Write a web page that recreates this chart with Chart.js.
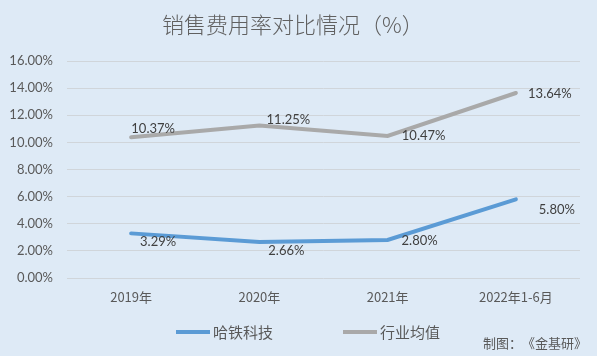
<!DOCTYPE html>
<html><head><meta charset="utf-8">
<script src="https://cdn.jsdelivr.net/npm/chart.js@4/dist/chart.umd.min.js"></script>
<style>html,body{margin:0;padding:0;background:#DEEAF6;}#wrap{width:597px;height:356px;}</style>
</head><body><div id="wrap"><canvas id="c" width="597" height="356"></canvas></div>
<script>
const categories = ['2019年', '2020年', '2021年', '2022年1-6月'];
const haTie = [3.29, 2.66, 2.80, 5.80];
const industryAvg = [10.37, 11.25, 10.47, 13.64];
const yTicks = [0, 2, 4, 6, 8, 10, 12, 14, 16];
const seriesNames = ['哈铁科技', '行业均值'];
const titleText = '销售费用率对比情况（%）';
const creditText = '制图：《金基研》';

// label offsets (style only)
const labelOffsets = [
  [[27, 8], [27, 9], [32, 1], [41, 10]],
  [[22, -9], [29, -6], [36, 0], [34, 1]]
];

const CJK = '"Noto Sans CJK SC", "Noto Sans", sans-serif';
const NUM = 'Lato, "Noto Sans", sans-serif';

const decor = {
  id: 'decor',
  beforeDraw(chart) {
    const ctx = chart.ctx;
    ctx.save();
    ctx.fillStyle = '#DEEAF6';
    ctx.fillRect(0, 0, chart.width, chart.height);
    ctx.restore();
  },
  afterDraw(chart) {
    const ctx = chart.ctx;
    ctx.save();
    // title
    ctx.fillStyle = '#606060';
    ctx.font = '300 22px ' + CJK;
    ctx.textAlign = 'left';
    ctx.textBaseline = 'middle';
    ctx.fillText(titleText, 162, 25);
    ctx.textAlign = 'center';
    // data labels
    ctx.font = '13px ' + NUM;
    ctx.fillStyle = '#404040';
    chart.data.datasets.forEach((ds, di) => {
      const meta = chart.getDatasetMeta(di);
      meta.data.forEach((pt, i) => {
        const off = labelOffsets[di][i];
        ctx.fillText(ds.data[i].toFixed(2) + '%', pt.x + off[0], pt.y + off[1]);
      });
    });
    // legend
    const legendY = 332;
    const items = [{x: 176}, {x: 343}];
    ctx.font = '15px ' + CJK;
    ctx.textAlign = 'left';
    chart.data.datasets.forEach((ds, di) => {
      const x = items[di].x;
      ctx.strokeStyle = ds.borderColor;
      ctx.lineWidth = 4;
      ctx.beginPath();
      ctx.moveTo(x, legendY);
      ctx.lineTo(x + 34, legendY);
      ctx.stroke();
      ctx.fillStyle = '#595959';
      ctx.fillText(ds.label, x + 37, legendY);
    });
    // credit (drawn glyph by glyph to keep full-width punctuation)
    ctx.font = '13px ' + CJK;
    ctx.textAlign = 'left';
    ctx.fillStyle = '#595959';
    const chars = Array.from(creditText);
    const pitch = 13;
    let cx = 587 - pitch * chars.length;
    chars.forEach(ch => { ctx.fillText(ch, cx, 343); cx += pitch; });
    ctx.restore();
  }
};

new Chart(document.getElementById('c'), {
  type: 'line',
  data: {
    labels: categories,
    datasets: [
      { label: seriesNames[0], data: haTie, borderColor: '#5B9BD5', backgroundColor: '#5B9BD5', borderWidth: 4, pointRadius: 0, tension: 0, borderCapStyle: 'round' },
      { label: seriesNames[1], data: industryAvg, borderColor: '#A9A9A9', backgroundColor: '#A9A9A9', borderWidth: 4, pointRadius: 0, tension: 0, borderCapStyle: 'round' }
    ]
  },
  options: {
    responsive: false,
    animation: false,
    events: [],
    layout: { padding: { top: 61, right: 17, bottom: 48, left: 0 } },
    plugins: { legend: { display: false }, title: { display: false }, tooltip: { enabled: false } },
    scales: {
      x: {
        offset: true,
        grid: { display: false, drawTicks: false },
        border: { display: false },
        ticks: { padding: 11, color: '#595959', font: { family: CJK, size: 13 } },
        afterFit(s) { s.height = 30; }
      },
      y: {
        min: 0, max: 16,
        afterBuildTicks(s) { s.ticks = yTicks.map(v => ({ value: v })); },
        grid: { color: '#D0D5DA', lineWidth: 1, drawTicks: false },
        border: { display: false },
        ticks: { padding: 14, color: '#595959', font: { family: NUM, size: 13 }, callback: v => v.toFixed(2) + '%' },
        afterFit(s) { s.width = 67; }
      }
    }
  },
  plugins: [decor]
});
</script>
</body></html>
